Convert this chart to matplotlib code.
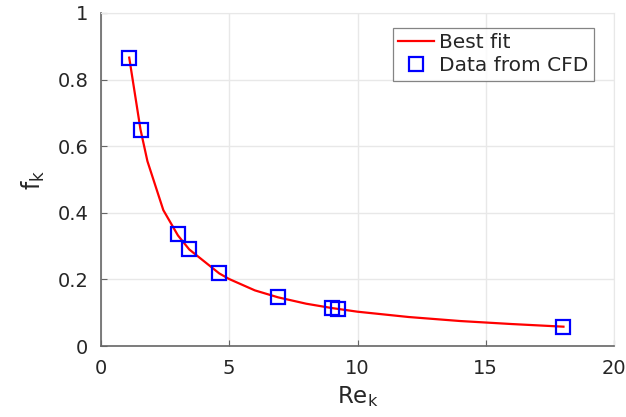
import matplotlib
matplotlib.use("Agg")
import matplotlib.pyplot as plt

# Best-fit curve vertices
fit_re = [1.1, 1.54, 1.81, 2.43, 3.0, 3.44, 4.61, 5.0, 6.0, 6.91, 8.0, 9.0, 10.0, 12.0, 14.0, 16.0, 18.03]
fit_f = [0.866, 0.65, 0.555, 0.408, 0.332, 0.290, 0.218, 0.201, 0.167, 0.146, 0.127, 0.114, 0.103, 0.087, 0.075, 0.066, 0.058]

# CFD data points
cfd_re = [1.1, 1.54, 3.0, 3.44, 4.61, 6.91, 9.01, 9.25, 18.03]
cfd_f = [0.866, 0.65, 0.335, 0.29, 0.219, 0.147, 0.113, 0.112, 0.058]

xticks = [0, 5, 10, 15, 20]
yticks = [0, 0.2, 0.4, 0.6, 0.8, 1]
ytick_labels = ["0", "0.2", "0.4", "0.6", "0.8", "1"]

plt.rcParams['font.family'] = ['DejaVu Sans']
plt.rcParams['mathtext.default'] = 'regular'

fig = plt.figure(figsize=(6.26, 4.17), dpi=100)
ax = fig.add_axes([101/626, 1 - 346/417, (614-101)/626, (346-13)/417])

ax.plot(fit_re, fit_f, color='red', lw=1.6, label='Best fit', zorder=3)
ax.plot(cfd_re, cfd_f, linestyle='none', marker='s', markersize=10, markerfacecolor='none',
        markeredgecolor='blue', markeredgewidth=1.6, label='Data from CFD', zorder=4)

ax.set_xlim(0, 20)
ax.set_ylim(0, 1)
ax.set_xticks(xticks)
ax.set_yticks(yticks)
ax.set_yticklabels(ytick_labels)
ax.grid(True, color='#e8e8e8', lw=1)
ax.set_axisbelow(True)

dark = '#666666'
for s in ['left', 'bottom']:
    ax.spines[s].set_color(dark)
    ax.spines[s].set_linewidth(1.2)
for s in ['top', 'right']:
    ax.spines[s].set_color('#e8e8e8')
ax.tick_params(direction='in', length=4, color=dark, labelsize=14, labelcolor='#262626')
ax.tick_params(axis='x', pad=9)
ax.tick_params(axis='y', pad=9)
ax.tick_params(top=False, right=False)

ax.set_xlabel('Re$_k$', fontsize=16.5, color='#262626', labelpad=5)
ax.set_ylabel('f$_k$', fontsize=17, color='#262626', labelpad=8)

leg = ax.legend(loc='upper left', bbox_to_anchor=((393-101)/513, 1 - (28-13)/333), fontsize=14.5,
                frameon=True, fancybox=False, edgecolor='#666666', handlelength=1.8,
                borderpad=0.25, labelspacing=0.22, handletextpad=0.25, borderaxespad=0)
leg.get_frame().set_linewidth(0.9)
for t in leg.get_texts():
    t.set_color('#262626')

fig.savefig('out.png', dpi=100)
